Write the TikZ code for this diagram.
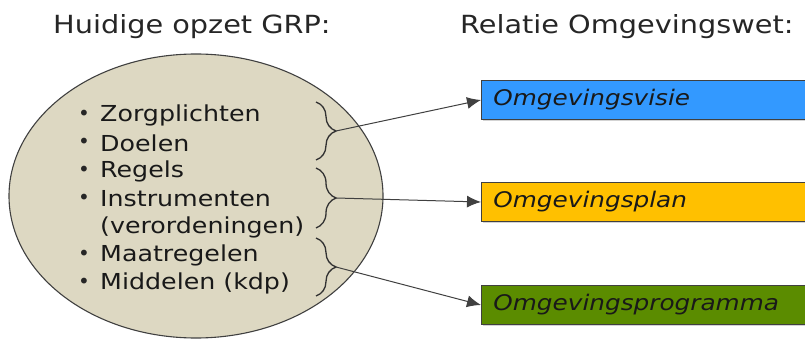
\documentclass[tikz,border=0pt]{standalone}
\usepackage{fontspec}
\setmainfont{DejaVu Sans}
\newfontfamily\handfont[FakeStretch=1.15]{DejaVu Sans}
\usetikzlibrary{shapes.geometric,arrows.meta,decorations.pathreplacing,shadows}
\definecolor{ellfill}{HTML}{DDD8C2}
\definecolor{edgegray}{HTML}{404040}
\definecolor{visblue}{HTML}{3399FF}
\definecolor{planamber}{HTML}{FFC000}
\definecolor{proggreen}{HTML}{5B8C00}
\tikzset{
  title/.style={font=\handfont\fontsize{25}{28}\selectfont, text=black!85, anchor=west, inner sep=0pt},
  item/.style={font=\handfont\fontsize{22}{26}\selectfont, text=black!90, anchor=west, inner sep=0pt},
  bul/.style={font=\fontsize{20}{24}\selectfont, text=black!85, inner sep=0pt},
  ombox/.style={draw=edgegray, line width=0.9pt, minimum height=39pt, minimum width=340pt,
    anchor=west, align=left, text width=320pt, inner xsep=12pt,
    font=\handfont\itshape\fontsize{21.5}{24}\selectfont, text=black!90,
    drop shadow={opacity=0.35, shadow xshift=1.5pt, shadow yshift=-1.5pt}},
  brc/.style={decorate, decoration={brace, amplitude=20pt}, draw=black!80, line width=1.3pt},
  conn/.style={draw=black!75, line width=1pt, -{Latex[length=14pt,width=12pt]}}
}
\begin{document}
\begin{tikzpicture}[x=1pt,y=-1pt]
\useasboundingbox (0,0) rectangle (805,347);
\clip (0,0) rectangle (805,347);
\node[title] (t1) at (53,27) {Huidige opzet GRP:};
\node[title] (t2) at (460,27) {Relatie Omgevingswet:};
\node[ellipse, draw=edgegray, line width=1.1pt, fill=ellfill, minimum width=374pt, minimum height=284pt] (ell) at (196,196) {};
\foreach \n/\y/\t/\b in {l1/115/Zorgplichten/1, l2/143/Doelen/1, l3/171/Regels/1, l4/199/Instrumenten/1, l5/227/(verordeningen)/0, l6/255/Maatregelen/1, l7/283/Middelen (kdp)/1}{
  \node[item] (\n) at (100,\y) {\t};
  \ifnum\b=1 \node[bul] (\n b) at (84,\y) {\textbullet}; \fi
}
\coordinate (b1t) at (316,102); \coordinate (b1b) at (316,160);
\coordinate (b2t) at (316,168); \coordinate (b2b) at (316,228);
\coordinate (b3t) at (316,238); \coordinate (b3b) at (316,296);
\draw[brc] (b1t) -- (b1b);
\draw[brc] (b2t) -- (b2b);
\draw[brc] (b3t) -- (b3b);
\coordinate (tip1) at (336,131);
\coordinate (tip2) at (336,198);
\coordinate (tip3) at (336,267);
\node[ombox, fill=visblue] (o1) at (481,100) {Omgevingsvisie};
\node[ombox, fill=planamber] (o2) at (481,202) {Omgevingsplan};
\node[ombox, fill=proggreen] (o3) at (481,305) {Omgevingsprogramma};
\draw[conn] (tip1) -- (o1.west);
\draw[conn] (tip2) -- (o2.west);
\draw[conn] (tip3) -- (o3.west);
\end{tikzpicture}
\end{document}
